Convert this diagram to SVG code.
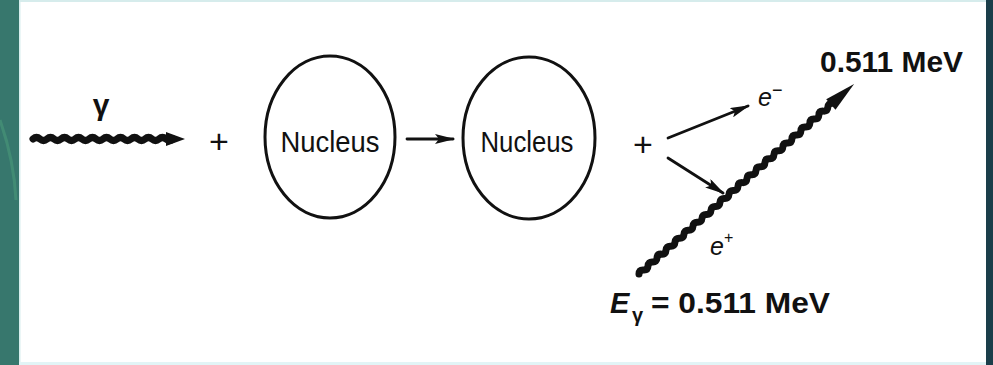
<svg xmlns="http://www.w3.org/2000/svg" width="993" height="365" viewBox="0 0 993 365">
<style>
.txt{font-family:"Liberation Sans",Arial,sans-serif;fill:#111}
.nuc{fill:none;stroke:#111;stroke-width:3}
.thin{fill:none;stroke:#111;stroke-width:2.8;stroke-linecap:round}
.wave{fill:none;stroke:#111;stroke-width:7;stroke-linecap:round;stroke-linejoin:round}
</style>
<defs>
<marker id="ah" viewBox="0 0 20 10" refX="18" refY="5" markerWidth="20" markerHeight="10" markerUnits="userSpaceOnUse" orient="auto">
<path d="M0,0 L20,5 L0,10 L4,5 Z" fill="#111"/>
</marker>
</defs>
<rect x="0" y="0" width="993" height="365" fill="#ffffff"/>
<rect x="0" y="0" width="19" height="365" fill="#37776d"/>
<path d="M0,120 Q14,160 16,200" fill="none" stroke="#4a9a7a" stroke-width="3" opacity="0.6"/>
<rect x="19" y="0" width="1.5" height="365" fill="#d8eeee"/>
<rect x="986" y="0" width="7" height="365" fill="#1b3e4a"/>
<rect x="19" y="0" width="967" height="2" fill="#d6ecec"/>
<rect x="19" y="362" width="967" height="3" fill="#e2f4f6"/>

<g id="connectors">
  <g id="gamma-in">
    <path class="wave" d="M33,139 q3.5,-3 7,0 t7,0 t7,0 t7,0 t7,0 t7,0 t7,0 t7,0 t7,0 t7,0 t7,0 t7,0 t7,0 t7,0 t7,0 t7,0 t7,0 t7,0 t7,0 t7,0"/>
    <path d="M166,132 L185,139 L166,146 Z" fill="#111"/>
  </g>
  <line id="arrow-mid" class="thin" x1="407" y1="139" x2="453" y2="139" stroke-width="3.2" marker-end="url(#ah)"/>
  <line id="arrow-eminus" class="thin" x1="668" y1="138" x2="748" y2="106" marker-end="url(#ah)"/>
  <line id="arrow-eplus" class="thin" x1="668" y1="158" x2="723" y2="193" marker-end="url(#ah)"/>
  <g id="gamma-out" transform="translate(639,274) rotate(-41.46)">
    <path class="wave" d="M0,0 q3,-3 6,0 t6,0 t6,0 t6,0 t6,0 t6,0 t6,0 t6,0 t6,0 t6,0 t6,0 t6,0 t6,0 t6,0 t6,0 t6,0 t6,0 t6,0 t6,0 t6,0 t6,0 t6,0 t6,0 t6,0 t6,0 t6,0 t6,0 t6,0 t6,0 t6,0 t6,0 t6,0 t6,0 t6,0 t6,0 t6,0 t6,0 t6,0 t6,0 t6,0 t6,0 t6,0 t6,0"/>
    <path d="M256,-7 L287,0 L256,7 Z" fill="#111"/>
  </g>
</g>

<g id="label-gamma"><text class="txt" x="101" y="115" font-size="30" font-weight="bold" text-anchor="middle">γ</text></g>
<g id="plus1"><text class="txt" x="219" y="153" font-size="34" text-anchor="middle">+</text></g>

<g id="nucleus1">
  <ellipse class="nuc" cx="330" cy="137" rx="65" ry="81"/>
  <text class="txt" x="330" y="152" font-size="29" text-anchor="middle" textLength="99" lengthAdjust="spacingAndGlyphs">Nucleus</text>
</g>
<g id="nucleus2">
  <ellipse class="nuc" cx="529" cy="138" rx="66" ry="81"/>
  <text class="txt" x="527" y="152" font-size="29" text-anchor="middle" textLength="93" lengthAdjust="spacingAndGlyphs">Nucleus</text>
</g>

<g id="plus2"><text class="txt" x="643" y="156" font-size="34" text-anchor="middle">+</text></g>

<g id="label-eminus"><text class="txt" x="758" y="106" font-size="25" font-style="italic">e<tspan font-size="18" dy="-10" font-style="normal">−</tspan></text></g>
<g id="label-eplus"><text class="txt" x="710" y="255" font-size="25" font-style="italic">e<tspan font-size="16" dy="-12" font-style="normal">+</tspan></text></g>

<g id="label-top"><text class="txt" x="820" y="72" font-size="29" font-weight="bold" textLength="143" lengthAdjust="spacingAndGlyphs">0.511 MeV</text></g>
<g id="label-bottom">
  <text class="txt" x="610" y="313" font-size="29" font-weight="bold" font-style="italic">E</text>
  <text class="txt" x="632" y="322" font-size="20" font-weight="bold">γ</text>
  <text class="txt" x="651" y="313" font-size="29" font-weight="bold" textLength="179" lengthAdjust="spacingAndGlyphs">= 0.511 MeV</text>
</g>
</svg>
